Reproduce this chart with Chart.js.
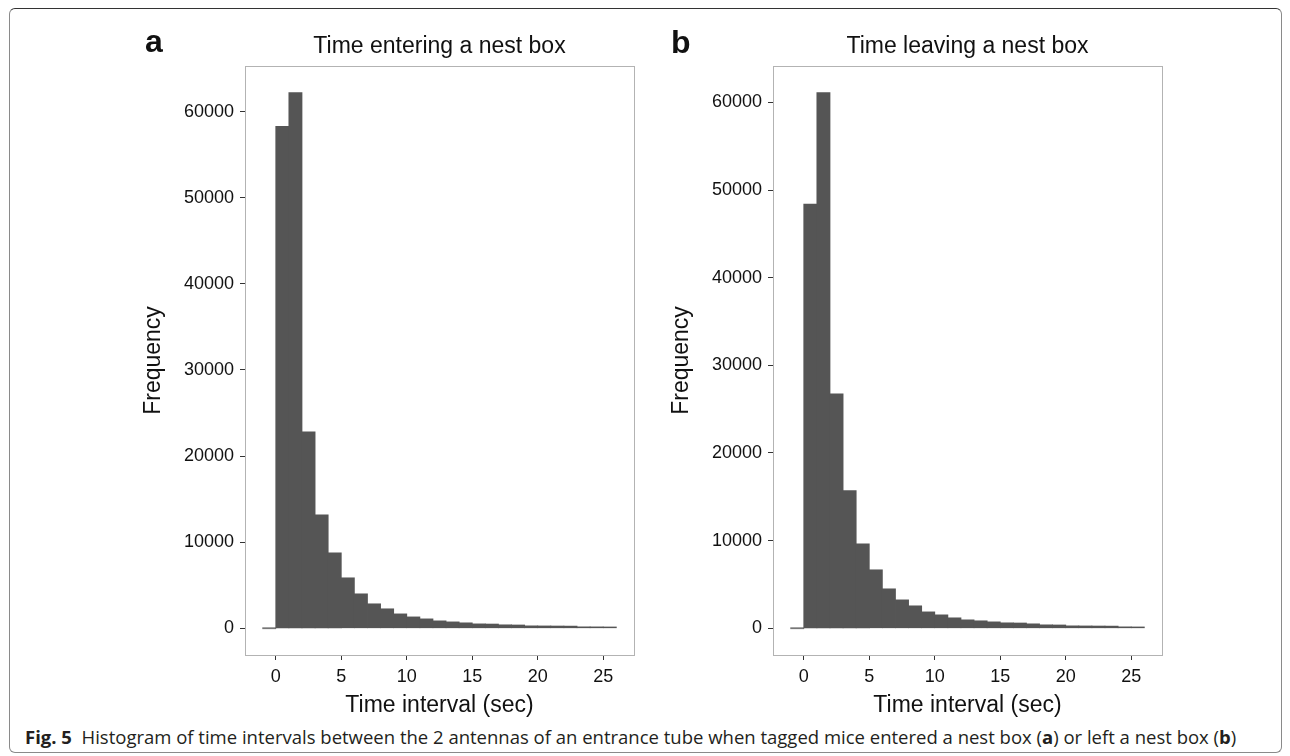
<!DOCTYPE html>
<html>
<head>
<meta charset="utf-8">
<script src="https://cdn.jsdelivr.net/npm/chart.js@4.4.1/dist/chart.umd.min.js"></script>
<style>
  html, body { margin: 0; padding: 0; background: #fff; }
  body { width: 1290px; height: 756px; position: relative; overflow: hidden; }
  .frame { position: absolute; left: 9px; top: 8px; width: 1273px; height: 745px; border: 1px solid #8a8a8a; border-top-color: #333; border-radius: 6px; box-sizing: border-box; }
  canvas { position: absolute; top: 0; }
  #chartA { left: 0; }
  #chartB { left: 528px; }
  .panel { position: absolute; font: bold 32px "Liberation Sans", Arial, sans-serif; line-height: 32px; color: #111; }
  .caption { position: absolute; left: 25px; top: 728px; font: 18.5px "Open Sans", sans-serif; line-height: 18px; color: #231f20; white-space: nowrap; }
</style>
</head>
<body>
<div class="frame"></div>
<canvas id="chartA" width="645" height="720"></canvas>
<canvas id="chartB" width="645" height="720"></canvas>
<div class="panel" style="left:145px; top:25px;">a</div>
<div class="panel" style="left:671px; top:26px;">b</div>
<div class="caption"><b>Fig. 5</b>&nbsp; Histogram of time intervals between the 2 antennas of an entrance tube when tagged mice entered a nest box (<b>a</b>) or left a nest box (<b>b</b>)</div>

<script>
// histogram bins (sec), one bin per second
const binStarts = [-1, 0, 1, 2, 3, 4, 5, 6, 7, 8, 9, 10, 11, 12, 13, 14, 15, 16, 17, 18, 19, 20, 21, 22, 23, 24, 25]
const binWidth = 1

// a: time entering a nest box
const enteringCounts = [0, 58300, 62200, 22800, 13150, 8750, 5850, 3990, 2830, 2250, 1660, 1310, 1080, 850, 730, 620, 500, 480, 390, 370, 270, 260, 250, 240, 155, 150, 140]
// b: time leaving a nest box
const leavingCounts = [0, 48400, 61100, 26750, 15700, 9630, 6660, 4490, 3230, 2550, 1860, 1520, 1180, 950, 840, 720, 610, 590, 495, 380, 365, 265, 255, 245, 235, 150, 140]

// tick labels
const xTickValues = [0, 5, 10, 15, 20, 25]
const yTickValues = [0, 10000, 20000, 30000, 40000, 50000, 60000]

const panelTitles = ['Time entering a nest box', 'Time leaving a nest box']
const xTitle = 'Time interval (sec)'
const yTitle = 'Frequency'

const fontFamily = '"Liberation Sans", Arial, sans-serif'

// grey box round the plot area, title centred over it
const panelFrame = {
    id: 'panelFrame',
    afterLayout(chart) {
        if (chart.titleBlock) {
            chart.titleBlock.left = chart.chartArea.left
            chart.titleBlock.right = chart.chartArea.right
        }
    },
    afterDraw(chart) {
        const { ctx, chartArea: a } = chart
        ctx.save()
        ctx.strokeStyle = '#b3b3b3'
        ctx.lineWidth = 1
        ctx.strokeRect(Math.round(a.left) + 0.5, Math.round(a.top) + 0.5, Math.round(a.right - a.left), Math.round(a.bottom - a.top))
        ctx.restore()
    }
}

function histogram(canvasId, titleText, counts) {
    // 5% expansion on both axes, like the original plot
    const xLo = binStarts[0], xHi = binStarts[binStarts.length - 1] + binWidth
    const xPad = (xHi - xLo) * 0.05
    const yHi = Math.max(...counts)
    const yPad = yHi * 0.05

    const points = binStarts.map((s, i) => ({ x: s + binWidth / 2, y: counts[i] }))
    const textColor = '#111'

    new Chart(document.getElementById(canvasId), {
        type: 'bar',
        data: {
            datasets: [{
                data: points,
                backgroundColor: ctx => (ctx.raw && ctx.raw.y === 0 ? '#777' : '#555555'),
                borderWidth: 0,
                inflateAmount: 0.4, // hide seams between bars
                barPercentage: 1,
                categoryPercentage: 1,
                minBarLength: 1
            }]
        },
        options: {
            responsive: false,
            animation: false,
            devicePixelRatio: 1,
            layout: { padding: { left: 140, right: 11, top: 0, bottom: 0 } },
            plugins: {
                legend: { display: false },
                tooltip: { enabled: false },
                title: {
                    display: true,
                    text: titleText,
                    color: textColor,
                    font: { family: fontFamily, size: 23, weight: 'normal' },
                    padding: { top: 33, bottom: 5.4 }
                }
            },
            scales: {
                x: {
                    type: 'linear',
                    offset: false,
                    min: xLo - xPad,
                    max: xHi + xPad,
                    afterBuildTicks: scale => { scale.ticks = xTickValues.map(v => ({ value: v })) },
                    afterFit: scale => { scale.height = 65 },
                    border: { display: false },
                    grid: { offset: false, drawOnChartArea: false, drawTicks: true, tickLength: 5, tickColor: '#333', tickWidth: 1 },
                    ticks: {
                        padding: 6,
                        color: textColor,
                        font: { family: fontFamily, size: 18 },
                        maxRotation: 0,
                        autoSkip: false,
                        callback: v => String(v)
                    },
                    title: {
                        display: true,
                        text: xTitle,
                        color: textColor,
                        font: { family: fontFamily, size: 23 },
                        padding: { top: 0, bottom: 1 }
                    }
                },
                y: {
                    min: -yPad,
                    max: yHi + yPad,
                    afterBuildTicks: scale => { scale.ticks = yTickValues.map(v => ({ value: v })) },
                    afterFit: scale => { scale.width = 105 },
                    border: { display: false },
                    grid: { drawOnChartArea: false, drawTicks: true, tickLength: 5, tickColor: '#333', tickWidth: 1 },
                    ticks: {
                        padding: 6,
                        color: textColor,
                        font: { family: fontFamily, size: 18 },
                        autoSkip: false,
                        callback: v => String(v)
                    },
                    title: {
                        display: true,
                        text: yTitle,
                        color: textColor,
                        font: { family: fontFamily, size: 23 },
                        padding: { top: 0, bottom: 0 }
                    }
                }
            }
        },
        plugins: [panelFrame]
    })
}

histogram('chartA', panelTitles[0], enteringCounts)
histogram('chartB', panelTitles[1], leavingCounts)
</script>
</body>
</html>
